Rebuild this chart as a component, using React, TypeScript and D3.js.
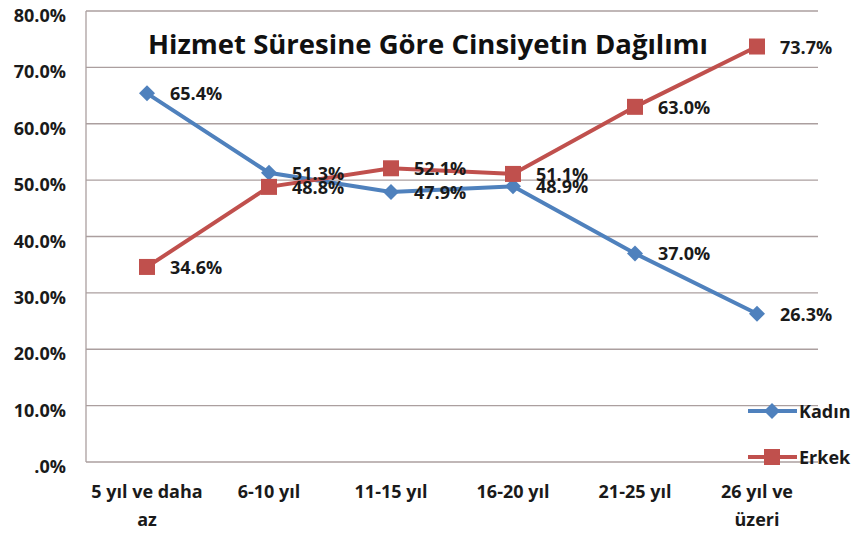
import * as d3 from 'd3';
import React, { useRef, useEffect } from 'react';

const categories = ['5 yıl ve daha|az', '6-10 yıl', '11-15 yıl', '16-20 yıl', '21-25 yıl', '26 yıl ve|üzeri'];
const kadin = [65.4, 51.3, 47.9, 48.9, 37.0, 26.3];
const erkek = [34.6, 48.8, 52.1, 51.1, 63.0, 73.7];
const yTicks = [0, 10, 20, 30, 40, 50, 60, 70, 80];
const title = 'Hizmet Süresine Göre Cinsiyetin Dağılımı';

const width = 858;
const height = 533;
const margin = { top: 11, right: 40, bottom: 71, left: 86 };
const font = '"Open Sans", Lato, sans-serif';
const fs = 18;

const App = () => {
  const svgRef = useRef<SVGSVGElement>(null);

  useEffect(() => {
    const svg = d3.select(svgRef.current);
    svg.selectAll('*').remove();

    const x = d3.scaleBand<number>()
      .domain(d3.range(categories.length))
      .range([margin.left, width - margin.right]);
    const y = d3.scaleLinear()
      .domain([0, 80])
      .range([height - margin.bottom, margin.top]);
    const cx = (i: number) => x(i)! + x.bandwidth() / 2;

    svg.append('rect').attr('width', width).attr('height', height).attr('fill', '#fff');

    // gridlines
    svg.append('g')
      .selectAll('line')
      .data(yTicks)
      .join('line')
      .attr('x1', margin.left)
      .attr('x2', width - margin.right)
      .attr('y1', d => y(d))
      .attr('y2', d => y(d))
      .attr('stroke', '#ab9f9f')
      .attr('stroke-width', 1.3);

    // left axis line
    svg.append('line')
      .attr('x1', margin.left).attr('x2', margin.left)
      .attr('y1', y(80)).attr('y2', y(0))
      .attr('stroke', '#ab9f9f').attr('stroke-width', 1.3);

    // y labels
    svg.append('g')
      .selectAll('text')
      .data(yTicks)
      .join('text')
      .attr('x', 66)
      .attr('y', d => y(d) + 11)
      .attr('text-anchor', 'end')
      .attr('font-family', font)
      .attr('font-weight', 'bold')
      .attr('font-size', fs)
      .attr('fill', '#1a1a1a')
      .text(d => (d === 0 ? '.0%' : d.toFixed(1) + '%'));

    // x labels
    const xl = svg.append('g')
      .selectAll('text')
      .data(categories)
      .join('text')
      .attr('text-anchor', 'middle')
      .attr('font-family', font)
      .attr('font-weight', 'bold')
      .attr('font-size', fs)
      .attr('fill', '#1a1a1a');
    xl.each(function (d, i) {
      const t = d3.select(this);
      d.split('|').forEach((line, j) => {
        t.append('tspan')
          .attr('x', cx(i))
          .attr('y', 498 + j * 28)
          .text(line);
      });
    });

    // title
    svg.append('text')
      .attr('x', 428)
      .attr('y', 54)
      .attr('text-anchor', 'middle')
      .attr('font-family', font)
      .attr('font-weight', 'bold')
      .attr('font-size', 27.5)
      .attr('fill', '#111')
      .text(title);

    const line = d3.line<number>()
      .x((_, i) => cx(i))
      .y(d => y(d));

    const series = [
      { name: 'Kadın', values: kadin, color: '#4f81bd', shape: 'diamond' },
      { name: 'Erkek', values: erkek, color: '#c0504d', shape: 'square' },
    ];

    const marker = (g: any, shape: string, color: string, px: number, py: number) => {
      if (shape === 'diamond') {
        g.append('path')
          .attr('d', `M${px},${py - 8}L${px + 8},${py}L${px},${py + 8}L${px - 8},${py}Z`)
          .attr('fill', color);
      } else {
        g.append('rect')
          .attr('x', px - 8).attr('y', py - 8)
          .attr('width', 16).attr('height', 16)
          .attr('fill', color);
      }
    };

    series.forEach(s => {
      svg.append('path')
        .attr('d', line(s.values))
        .attr('fill', 'none')
        .attr('stroke', s.color)
        .attr('stroke-width', 4);
      const g = svg.append('g');
      s.values.forEach((v, i) => marker(g, s.shape, s.color, cx(i), y(v)));
    });

    series.forEach(s => {
      svg.append('g')
        .selectAll('text')
        .data(s.values)
        .join('text')
        .attr('x', (_, i) => cx(i) + 23)
        .attr('y', d => y(d) + 7)
        .attr('font-family', font)
        .attr('font-weight', 'bold')
        .attr('font-size', fs)
        .attr('fill', '#1a1a1a')
        .text(d => d.toFixed(1) + '%');
    });

    // legend
    series.forEach((s, k) => {
      const ly = 411 + k * 46;
      const g = svg.append('g');
      g.append('line')
        .attr('x1', 748).attr('x2', 797)
        .attr('y1', ly).attr('y2', ly)
        .attr('stroke', s.color).attr('stroke-width', 4);
      marker(g, s.shape, s.color, 772, ly);
      g.append('text')
        .attr('x', 799)
        .attr('y', ly + 7)
        .attr('font-family', font)
        .attr('font-weight', 'bold')
        .attr('font-size', fs)
        .attr('fill', '#1a1a1a')
        .text(s.name);
    });
  }, []);

  return (
    <svg ref={svgRef} width={width} height={height}
      style={{ position: 'absolute', left: 0, top: 0, display: 'block' }} />
  );
};

export default App;
